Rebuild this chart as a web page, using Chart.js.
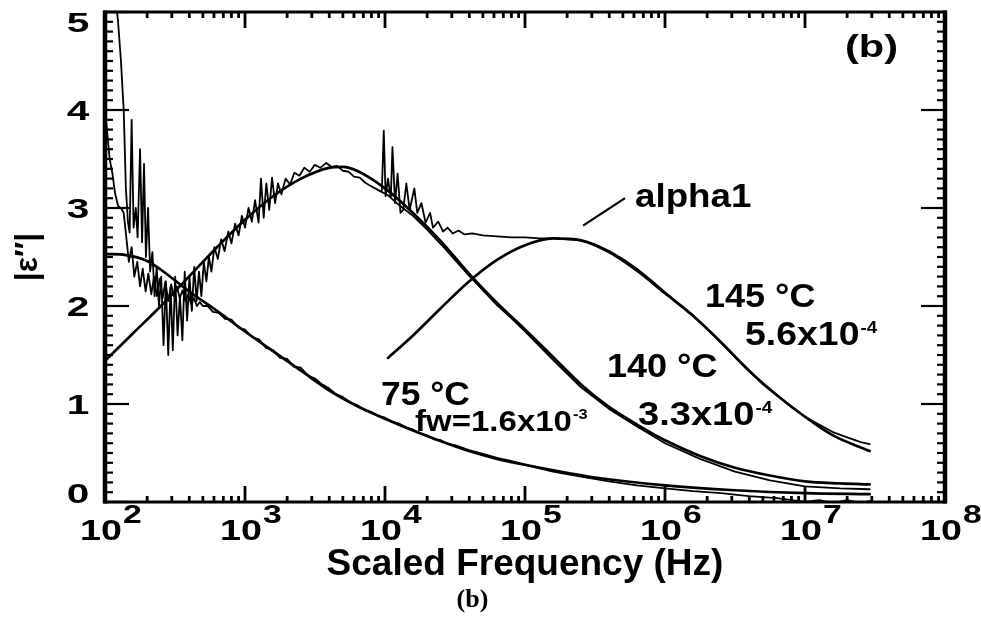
<!DOCTYPE html>
<html><head><meta charset="utf-8">
<script src="https://cdn.jsdelivr.net/npm/chart.js@4.4.1/dist/chart.umd.min.js"></script>
<style>
html,body{margin:0;padding:0;background:#fff;overflow:hidden;}
#c{display:block;}
</style></head><body>
<canvas id="c" width="981" height="618"></canvas>
<script>
// ---------------- DATA (frequency in Hz, |eps''|) ----------------
const yTickValues = [0, 1, 2, 3, 4, 5];
const yTickLabels = ['0', '1', '2', '3', '4', '5'];
const xTickDecades = [100, 1000, 10000, 100000, 1000000, 10000000, 100000000];
const xTickExponents = ['2', '3', '4', '5', '6', '7', '8'];

const fit75 = [[100,2.53],[141,2.52],[200,2.46],[251,2.37],[398,2.15],[631,1.95],[1000,1.74],[1585,1.54],[2512,1.34],[3981,1.14],[6310,0.98],[10000,0.85],[15850,0.73],[25120,0.62],[39810,0.52],[63100,0.44],[100000,0.38],[177800,0.31],[316200,0.25],[1000000,0.17],[3162000,0.12],[10000000,0.09],[29000000,0.08]];

const data75 = [[100,4.0],[104,3.75],[108,3.5],[113,3.35],[118,3.15],[124,3.02],[130,3.0],[136,2.95],[142,2.7],[148,2.45],[155,2.6],[162,2.3],[170,2.45],[178,2.2],[186,2.38],[195,2.15],[204,2.33],[214,2.12],[224,2.3],[235,2.1],[246,2.28],[258,2.08],[270,2.25],[283,2.05],[297,2.22],[311,2.1],[326,2.2],[342,2.08],[358,2.16],[375,2.05],[393,2.12],[412,2.02],[432,2.08],[453,2.0],[475,2.04],[500,2.0],[540,2.0],[590,1.94],[650,1.93],[720,1.87],[800,1.86],[900,1.78],[1000,1.76],[1130,1.68],[1260,1.66],[1420,1.57],[1585,1.55],[1780,1.47],[2000,1.46],[2240,1.38],[2510,1.37],[2820,1.29],[3160,1.26],[3550,1.2],[3980,1.16],[4470,1.1],[5010,1.07],[5620,1.02],[6310,0.99],[7080,0.94],[7940,0.92],[8910,0.88],[10000,0.86],[11200,0.82],[12600,0.8],[14100,0.76],[15800,0.74],[17800,0.7],[20000,0.68],[22400,0.64],[25100,0.63],[28200,0.59],[31600,0.58],[39800,0.53],[50100,0.49],[63100,0.45],[79400,0.42],[100000,0.38],[158500,0.31],[251200,0.26],[398100,0.21],[631000,0.17],[1000000,0.14],[1585000,0.11],[2512000,0.09],[3981000,0.06],[6310000,0.04],[8000000,0.02],[10000000,0.0],[12600000,0.02],[15850000,-0.01],[20000000,0.02],[25000000,-0.01],[29000000,0.01]];

const fit140 = [[100,1.44],[158,1.72],[251,2.0],[398,2.3],[631,2.6],[1000,2.88],[1585,3.12],[2512,3.3],[3981,3.41],[5012,3.42],[6310,3.38],[10000,3.2],[15850,2.95],[25120,2.66],[39810,2.33],[63100,2.03],[100000,1.76],[158500,1.48],[251200,1.2],[398100,0.97],[631000,0.79],[1000000,0.63],[1778000,0.47],[3162000,0.35],[5623000,0.27],[10000000,0.21],[17780000,0.19],[29000000,0.18]];

const data140 = [[112,6.0],[118,5.2],[124,4.9],[130,4.5],[136,4.0],[141,3.2],[146,2.85],[150,2.75],[155,3.9],[160,2.8],[166,3.0],[171,2.7],[178,3.6],[184,2.65],[190,3.45],[196,2.5],[203,3.0],[210,2.35],[218,2.55],[226,2.1],[234,2.4],[243,2.0],[252,2.3],[262,1.6],[272,2.25],[283,1.5],[294,2.2],[305,1.55],[317,2.3],[330,1.7],[343,2.1],[357,1.65],[371,2.35],[386,1.85],[401,2.3],[417,1.95],[434,2.4],[451,2.05],[469,2.35],[488,2.1],[508,2.45],[530,2.25],[552,2.5],[575,2.35],[605,2.6],[640,2.48],[675,2.68],[715,2.56],[760,2.76],[800,2.64],[850,2.84],[900,2.72],[950,2.92],[1000,2.8],[1060,3.0],[1120,2.86],[1180,3.08],[1250,2.85],[1300,3.3],[1360,2.9],[1420,3.25],[1490,2.98],[1560,3.31],[1640,3.05],[1720,3.25],[1820,3.14],[1950,3.3],[2100,3.24],[2250,3.36],[2450,3.33],[2650,3.41],[2900,3.37],[3150,3.44],[3450,3.41],[3800,3.46],[4150,3.42],[4550,3.43],[5000,3.38],[5500,3.37],[6000,3.32],[6600,3.31],[7200,3.26],[7800,3.23],[8500,3.2],[9300,3.17],[10500,3.13],[12600,3.03],[15850,2.92],[20000,2.78],[25120,2.63],[31620,2.47],[39810,2.31],[50120,2.16],[63100,2.01],[79430,1.88],[100000,1.74],[158500,1.45],[251200,1.17],[398100,0.95],[631000,0.77],[1000000,0.6],[1778000,0.44],[3162000,0.31],[5623000,0.22],[10000000,0.16],[17780000,0.14],[29000000,0.13]];

const fitAlpha1 = [[10500,1.47],[15850,1.70],[25120,1.98],[39810,2.25],[63100,2.47],[100000,2.62],[158500,2.69],[251200,2.67],[398100,2.55],[631000,2.36],[1000000,2.13],[1585000,1.90],[2512000,1.63],[3981000,1.34],[6310000,1.09],[10000000,0.87],[15850000,0.68],[29000000,0.52]];

const data145 = [[9500,3.18],[9800,3.79],[10100,3.12],[10500,3.3],[11000,3.1],[11300,3.62],[11800,3.05],[12300,3.35],[12900,2.95],[13500,2.98],[14200,3.25],[15000,2.98],[16200,3.2],[17000,2.95],[18200,3.05],[19500,2.85],[21000,2.95],[22000,2.8],[24000,2.86],[26000,2.76],[28000,2.8],[30500,2.74],[33500,2.77],[37000,2.73],[42000,2.74],[50000,2.72],[63000,2.71],[80000,2.7],[100000,2.7],[126000,2.69],[160000,2.69],[200000,2.68],[250000,2.67],[316000,2.63],[400000,2.56],[500000,2.48],[630000,2.38],[800000,2.26],[1000000,2.14],[1260000,2.02],[1600000,1.9],[2000000,1.77],[2500000,1.63],[3160000,1.48],[4000000,1.34],[5000000,1.2],[6300000,1.09],[8000000,0.97],[10000000,0.87],[12600000,0.79],[16000000,0.71],[20000000,0.66],[25000000,0.61],[29000000,0.59]];

// ---------------- STYLE ----------------
const FONT = '"Liberation Sans", Arial, Helvetica, sans-serif';
const SERIF = '"Liberation Serif", "Times New Roman", serif';

// annotations anchored in data coordinates (frequency, value)
const notes = [
  {t:'(b)', f:1.93e7, v:4.54, size:32, sx:1.3},
  {t:'alpha1', f:6.11e5, v:3.01, size:34, sx:1.08},
  {t:'145 °C', f:1.93e6, v:1.99, size:34, sx:1.06},
  {t:'5.6x10', sup:'-4', f:3.73e6, v:1.60, size:34, sx:1.1},
  {t:'140 °C', f:3.85e5, v:1.28, size:34, sx:1.06},
  {t:'3.3x10', sup:'-4', f:6.41e5, v:0.79, size:34, sx:1.12},
  {t:'75 °C', f:9.36e3, v:0.99, size:34, sx:1.04},
  {t:'fw=1.6x10', sup:'-3', f:1.64e4, v:0.72, size:30, sx:1.1}
];
const leader = [[2.6e5, 2.82], [5.18e5, 3.10]];

function mk(pts, w, smooth) {
  return {
    data: pts.map(p => ({x: p[0], y: p[1]})),
    borderColor: '#000', backgroundColor: '#000', borderWidth: w,
    pointRadius: 0, fill: false, tension: 0,
    cubicInterpolationMode: smooth ? 'monotone' : 'default',
    borderJoinStyle: 'round', borderCapStyle: 'round'
  };
}

function stext(ctx, s, x, y, size, sx, align, family) {
  ctx.save();
  ctx.font = 'bold ' + size + 'px ' + (family || FONT);
  ctx.textBaseline = 'alphabetic';
  ctx.textAlign = 'left';
  ctx.fillStyle = '#000';
  const w = ctx.measureText(s).width * sx;
  let x0 = x;
  if (align === 'center') x0 = x - w / 2; else if (align === 'right') x0 = x - w;
  ctx.translate(x0, y); ctx.scale(sx, 1); ctx.fillText(s, 0, 0);
  ctx.restore();
  return x0 + w;
}

const framePlugin = {
  id: 'frame',
  afterDraw(chart) {
    const ctx = chart.ctx, a = chart.chartArea;
    const xs = chart.scales.x, ys = chart.scales.y;
    ctx.save();
    ctx.strokeStyle = '#000';
    ctx.lineCap = 'butt';
    // frame
    ctx.lineWidth = 3;
    ctx.strokeRect(a.left, a.top, a.right - a.left, a.bottom - a.top);
    ctx.lineWidth = 4.5;
    ctx.beginPath(); ctx.moveTo(a.left, a.top - 1.5); ctx.lineTo(a.left, a.bottom + 1.5); ctx.stroke();
    ctx.beginPath(); ctx.moveTo(a.right, a.top - 1.5); ctx.lineTo(a.right, a.bottom + 1.5); ctx.stroke();
    // y ticks (inward, both sides)
    ctx.lineWidth = 2.2;
    for (let i = 0; i <= 50; i++) {
      const py = ys.getPixelForValue(i / 10);
      const len = (i % 10 === 0) ? 24 : 8;
      ctx.beginPath(); ctx.moveTo(a.left, py); ctx.lineTo(a.left + len, py); ctx.stroke();
      ctx.beginPath(); ctx.moveTo(a.right, py); ctx.lineTo(a.right - len, py); ctx.stroke();
    }
    // x ticks (inward, top and bottom)
    ctx.lineWidth = 2.8;
    for (let d = 2; d <= 8; d++) {
      for (let m = 1; m <= 9; m++) {
        if (d === 8 && m > 1) break;
        const px = xs.getPixelForValue(m * Math.pow(10, d));
        const len = (m === 1) ? 16 : 6;
        ctx.beginPath(); ctx.moveTo(px, a.bottom); ctx.lineTo(px, a.bottom - len); ctx.stroke();
        ctx.beginPath(); ctx.moveTo(px, a.top); ctx.lineTo(px, a.top + len); ctx.stroke();
      }
    }
    // y tick labels
    yTickValues.forEach((v, i) => {
      let py = ys.getPixelForValue(v);
      if (v === 5) py += 10;
      if (v === 0) py -= 9;
      stext(ctx, yTickLabels[i], 78, py + 10, 28, 1.45, 'center');
    });
    // x tick labels 10^n
    xTickDecades.forEach((v, i) => {
      const px = xs.getPixelForValue(v);
      const end = stext(ctx, '10', px - 25, 540, 29, 1.3, 'left');
      stext(ctx, xTickExponents[i], end + 1, 523, 25, 1.35, 'left');
    });
    // leader line for alpha1
    ctx.lineWidth = 2.2;
    ctx.beginPath();
    ctx.moveTo(xs.getPixelForValue(leader[0][0]), ys.getPixelForValue(leader[0][1]));
    ctx.lineTo(xs.getPixelForValue(leader[1][0]), ys.getPixelForValue(leader[1][1]));
    ctx.stroke();
    // annotations
    notes.forEach(n => {
      const px = xs.getPixelForValue(n.f), py = ys.getPixelForValue(n.v);
      const end = stext(ctx, n.t, px, py, n.size, n.sx, 'left');
      if (n.sup) stext(ctx, n.sup, end + 1, py - 12, Math.round(n.size * 0.5), n.sx, 'left');
    });
    ctx.restore();
  }
};

new Chart(document.getElementById('c'), {
  type: 'line',
  data: {
    datasets: [
      mk(data75, 1.8, false),
      mk(data140, 1.8, false),
      mk(data145, 1.8, false),
      mk(fit75, 2.7, true),
      mk(fit140, 2.7, true),
      mk(fitAlpha1, 2.7, true)
    ]
  },
  options: {
    responsive: false,
    animation: false,
    devicePixelRatio: 1,
    parsing: false,
    layout: {padding: {left: 0, right: 36, top: 12, bottom: 0}},
    plugins: {
      legend: {display: false},
      tooltip: {enabled: false},
      title: {
        display: true, position: 'bottom', text: '(b)', color: '#000',
        font: {family: SERIF, size: 26, weight: 'bold'},
        padding: {top: 0, bottom: 2}
      }
    },
    scales: {
      x: {
        type: 'logarithmic', min: 100, max: 100000000,
        grid: {display: false, drawTicks: false},
        border: {display: false},
        ticks: {display: false},
        title: {
          display: true, text: 'Scaled Frequency (Hz)', color: '#000',
          font: {family: FONT, size: 37, weight: 'bold', lineHeight: 1.0},
          padding: {top: 0, bottom: 2}
        },
        afterFit: (s) => { s.height = 82.8; }
      },
      y: {
        min: 0, max: 5,
        grid: {display: false, drawTicks: false},
        border: {display: false},
        ticks: {display: false, stepSize: 1},
        title: {
          display: true, text: '|ε″|', color: '#000',
          font: {family: FONT, size: 32, weight: 'bold'},
          padding: {top: 9, bottom: 0}
        },
        afterFit: (s) => { s.width = 105; }
      }
    }
  },
  plugins: [framePlugin]
});
</script>
</body></html>
